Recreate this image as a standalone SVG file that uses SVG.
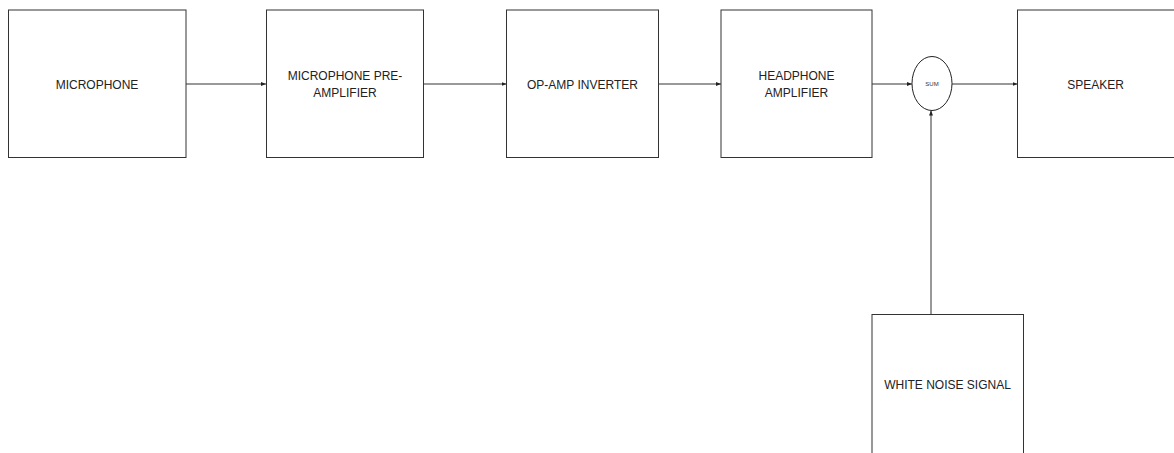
<svg xmlns="http://www.w3.org/2000/svg" width="1174" height="453" viewBox="0 0 1174 453">
<style>
.box{fill:#fff;stroke:#333;stroke-width:1}
.lbl{font-family:"Liberation Sans",Arial,sans-serif;font-size:12px;fill:#222;text-anchor:middle}
.sm{font-family:"Liberation Sans",Arial,sans-serif;font-size:6px;fill:#333;text-anchor:middle}
.con{stroke:#333;stroke-width:1;fill:none;marker-end:url(#ah)}
</style>
<defs>
<marker id="ah" viewBox="0 0 10 10" refX="10" refY="5" markerWidth="5" markerHeight="5" markerUnits="userSpaceOnUse" orient="auto">
<path d="M0,1 L10,5 L0,9 Z" fill="#222"/>
</marker>
</defs>
<rect width="1174" height="453" fill="#fff"/>
<g id="connectors">
<line class="con" x1="186" y1="84" x2="266" y2="84"/>
<line class="con" x1="423.5" y1="84" x2="506.5" y2="84"/>
<line class="con" x1="658.5" y1="84" x2="721" y2="84"/>
<line class="con" x1="872" y1="84" x2="912" y2="84"/>
<line class="con" x1="952" y1="84" x2="1017.5" y2="84"/>
<line class="con" x1="931" y1="314.5" x2="931" y2="110.5"/>
</g>
<g id="microphone">
<rect class="box" x="8.5" y="10" width="177.5" height="147.5"/>
<text class="lbl" x="97" y="89">MICROPHONE</text>
</g>
<g id="preamp">
<rect class="box" x="266.5" y="10" width="157" height="147.5"/>
<text class="lbl" x="345" y="79.5">MICROPHONE PRE-</text>
<text class="lbl" x="345" y="97">AMPLIFIER</text>
</g>
<g id="inverter">
<rect class="box" x="506.5" y="10" width="152" height="147.5"/>
<text class="lbl" x="582.5" y="89">OP-AMP INVERTER</text>
</g>
<g id="headphone">
<rect class="box" x="721" y="10" width="151" height="147.5"/>
<text class="lbl" x="796.5" y="79.5">HEADPHONE</text>
<text class="lbl" x="796.5" y="97">AMPLIFIER</text>
</g>
<g id="sum">
<ellipse cx="932" cy="83.5" rx="20" ry="27" fill="#fff" stroke="#222" stroke-width="1"/>
<text class="sm" x="932" y="85.5">SUM</text>
</g>
<g id="speaker">
<rect class="box" x="1017.5" y="10" width="160" height="147.5"/>
<text class="lbl" x="1095.5" y="89">SPEAKER</text>
</g>
<g id="whitenoise">
<rect class="box" x="872" y="314.5" width="151.5" height="145"/>
<text class="lbl" x="947.5" y="389">WHITE NOISE SIGNAL</text>
</g>
</svg>
